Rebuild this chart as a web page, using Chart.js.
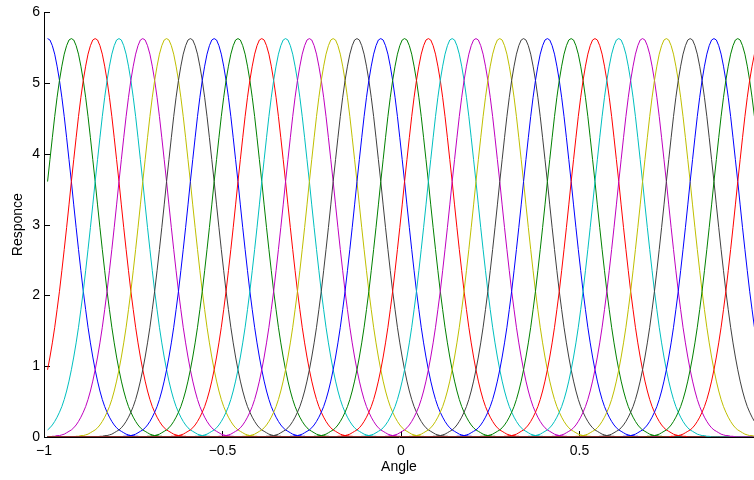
<!DOCTYPE html>
<html>
<head>
<meta charset="utf-8">
<script src="https://cdn.jsdelivr.net/npm/chart.js@4/dist/chart.umd.min.js"></script>
<style>
  html, body { margin: 0; padding: 0; background: #fff; }
  canvas { display: block; }
</style>
</head>
<body>
<canvas id="tuningChart" width="754" height="480"></canvas>
<script>
// preferred angle of each curve (peak positions)
const preferredAngles = [
    -0.99, -0.9233, -0.8567, -0.79, -0.7233, -0.6567, -0.59, -0.5233,
    -0.4567, -0.39, -0.3233, -0.2567, -0.19, -0.1233, -0.0567, 0.01,
    0.0767, 0.1433, 0.21, 0.2767, 0.3433, 0.41, 0.4767, 0.5433,
    0.61, 0.6767, 0.7433, 0.81, 0.8767, 0.9433, 1.01
];

// response against distance from the preferred angle, one entry per 1/150
const halfProfile = [
    5.63, 5.61, 5.53, 5.41, 5.24, 5.04, 4.80, 4.53, 4.23, 3.92,
    3.61, 3.28, 2.96, 2.65, 2.35, 2.06, 1.80, 1.55, 1.33, 1.13,
    0.95, 0.79, 0.65, 0.53, 0.43, 0.35, 0.28, 0.22, 0.17, 0.13,
    0.10, 0.08, 0.06, 0.04, 0.03, 0.02, 0.02, 0.01, 0.01
];

// sampled angles
const angleFirst = -0.99;
const angleStep = 1 / 150;
const angleCount = 298;

const xTicks = [-1, -0.5, 0, 0.5];
const xTickLabels = ['\u22121', '\u22120.5', '0', '0.5'];
const yTicks = [0, 1, 2, 3, 4, 5, 6];

const lineColors = ['#0000ff', '#008000', '#ff0000', '#00bfbf', '#bf00bf', '#bfbf00', '#404040'];

const angles = [];
for (let j = 0; j < angleCount; j++) {
    angles.push(angleFirst + j * angleStep);
}

const datasets = preferredAngles.map((pref, k) => ({
    data: angles.map(a => {
        const n = Math.abs(Math.round((a - pref) / angleStep));
        return { x: a, y: n < halfProfile.length ? halfProfile[n] : 0 };
    }),
    borderColor: lineColors[k % lineColors.length],
    borderWidth: 1,
    pointRadius: 0,
    tension: 0,
    fill: false,
    // later curves drawn on top, like matlab's hold on
    order: preferredAngles.length - 1 - k
}));

const labelFont = { family: '"Liberation Sans", Arial, sans-serif', size: 14 };

// matlab style ticks pointing into the plot
const innerTicks = {
    id: 'innerTicks',
    beforeDatasetsDraw(chart) {
        const { ctx, chartArea, scales: { x, y } } = chart;
        ctx.save();
        ctx.strokeStyle = '#000';
        ctx.lineWidth = 1;
        ctx.beginPath();
        xTicks.forEach(v => {
            const px = Math.round(x.getPixelForValue(v)) + 0.5;
            ctx.moveTo(px, chartArea.bottom);
            ctx.lineTo(px, chartArea.bottom - 6);
        });
        yTicks.forEach(v => {
            const py = Math.round(y.getPixelForValue(v)) + 0.5;
            ctx.moveTo(chartArea.left, py);
            ctx.lineTo(chartArea.left + 6, py);
        });
        ctx.stroke();
        ctx.restore();
    }
};

new Chart(document.getElementById('tuningChart').getContext('2d'), {
    type: 'line',
    data: { datasets },
    plugins: [innerTicks],
    options: {
        responsive: false,
        animation: false,
        events: [],
        layout: {
            padding: { top: 12, right: 0, bottom: 0, left: 0 }
        },
        plugins: {
            legend: { display: false },
            tooltip: { enabled: false }
        },
        scales: {
            x: {
                type: 'linear',
                min: -1,
                max: 0.9888,
                afterFit: s => { s.height = 43; },
                afterBuildTicks: s => { s.ticks = xTicks.map(v => ({ value: v })); },
                grid: { display: true, drawOnChartArea: false, drawTicks: false },
                border: { display: true, color: '#000', width: 1 },
                ticks: {
                    color: '#000',
                    font: labelFont,
                    padding: 6,
                    maxRotation: 0,
                    autoSkip: false,
                    callback: v => xTickLabels[xTicks.indexOf(v)]
                },
                title: {
                    display: true,
                    text: 'Angle',
                    color: '#000',
                    font: labelFont,
                    padding: { top: 0, bottom: 4.7 }
                }
            },
            y: {
                type: 'linear',
                min: 0,
                max: 6,
                afterFit: s => { s.width = 44; },
                afterBuildTicks: s => { s.ticks = yTicks.map(v => ({ value: v })); },
                grid: { display: true, drawOnChartArea: false, drawTicks: false },
                border: { display: true, color: '#000', width: 1 },
                ticks: {
                    color: '#000',
                    font: labelFont,
                    padding: 4
                },
                title: {
                    display: true,
                    text: 'Responce',
                    color: '#000',
                    font: labelFont,
                    padding: { top: 9.5, bottom: 0 }
                }
            }
        }
    }
});
</script>
</body>
</html>
